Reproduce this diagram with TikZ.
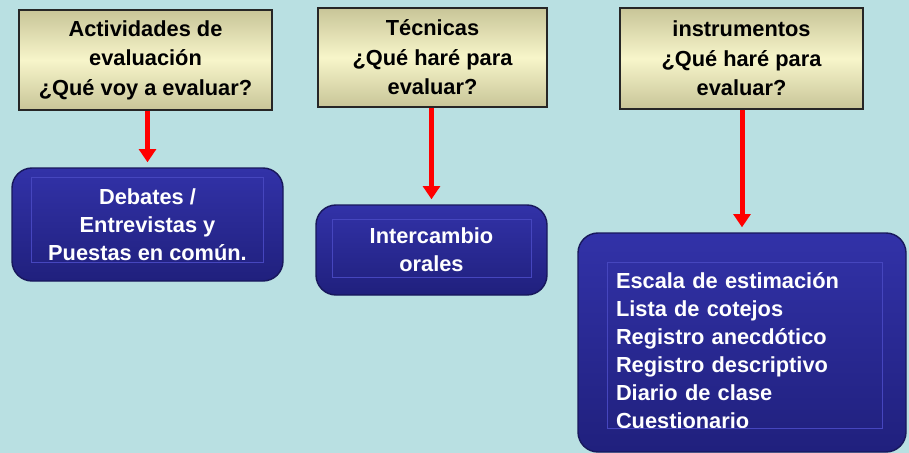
\documentclass[tikz,border=0pt]{standalone}
\usepackage{fontspec}
\setmainfont{Liberation Sans}
\usetikzlibrary{arrows.meta}
\newlength\pixel
\setlength\pixel{0.025cm}
\definecolor{bgCyan}{RGB}{185,224,226}
\definecolor{tanDark}{RGB}{200,197,152}
\definecolor{tanLight}{RGB}{247,245,202}
\definecolor{blueTop}{RGB}{50,50,168}
\definecolor{blueBottom}{RGB}{32,32,125}
\definecolor{blueEdge}{RGB}{24,24,92}
\definecolor{blueLine}{RGB}{70,70,190}
\begin{document}
\begin{tikzpicture}[
            x=\pixel, y=-\pixel,
            questionNode/.style={rectangle, draw=black!85, line width=0.8pt,
            top color=tanDark, bottom color=tanDark, middle color=tanLight,
            inner sep=0pt, align=center, font=\bfseries\fontsize{15.5}{21}\selectfont},
            answerNode/.style={rectangle, rounded corners=20\pixel, draw=blueEdge, line width=1pt,
            top color=blueTop, bottom color=blueBottom, text=white,
            inner sep=0pt, align=center, font=\bfseries\fontsize{15.5}{19.8}\selectfont},
            innerBox/.style={draw=blueLine, line width=0.8pt},
            arrow/.style={draw=red, line width=5\pixel, -{Triangle[width=0.42cm, length=0.33cm]}, shorten >=5\pixel},
        ]
        \fill[bgCyan] (0,0) rectangle (909,453);
        % question boxes
        \node[questionNode, minimum width=253\pixel, minimum height=100\pixel] (actividades) at (145.5,60) {Actividades de\\evaluación\\¿Qué voy a evaluar?};
        \node[questionNode, minimum width=229\pixel, minimum height=99\pixel] (tecnicas) at (432.5,57.5) {Técnicas\\¿Qué haré para\\evaluar?};
        \node[questionNode, minimum width=243\pixel, minimum height=101\pixel] (instrumentos) at (741.5,58.5) {instrumentos\\¿Qué haré para\\evaluar?};
        % answer boxes
        \node[answerNode, minimum width=271\pixel, minimum height=113\pixel] (debates) at (147.5,224.5) {Debates /\\Entrevistas y\\Puestas en común.};
        \node[answerNode, minimum width=231\pixel, minimum height=90\pixel] (intercambio) at (431.5,250) {Intercambio\\orales};
        \node[answerNode, minimum width=328\pixel, minimum height=219\pixel, text width=252\pixel, align=left] (lista) at (742,342.5) {\rule{0pt}{23pt}Escala de estimación\\Lista de cotejos\\Registro anecdótico\\Registro descriptivo\\Diario de clase\\Cuestionario};
        \draw[innerBox] ([xshift=20\pixel,yshift=-10\pixel]debates.north west) rectangle ([xshift=-20\pixel,yshift=19\pixel]debates.south east);
        \draw[innerBox] ([xshift=17\pixel,yshift=-15\pixel]intercambio.north west) rectangle ([xshift=-16\pixel,yshift=18\pixel]intercambio.south east);
        \draw[innerBox] ([xshift=30\pixel,yshift=-30\pixel]lista.north west) rectangle ([xshift=-24\pixel,yshift=24\pixel]lista.south east);
        % arrows
        \draw[arrow] (debates.north |- actividades.south) -- (debates.north);
        \draw[arrow] (intercambio.north |- tecnicas.south) -- (intercambio.north);
        \draw[arrow] (lista.north |- instrumentos.south) -- (lista.north);
    \end{tikzpicture}
\end{document}
